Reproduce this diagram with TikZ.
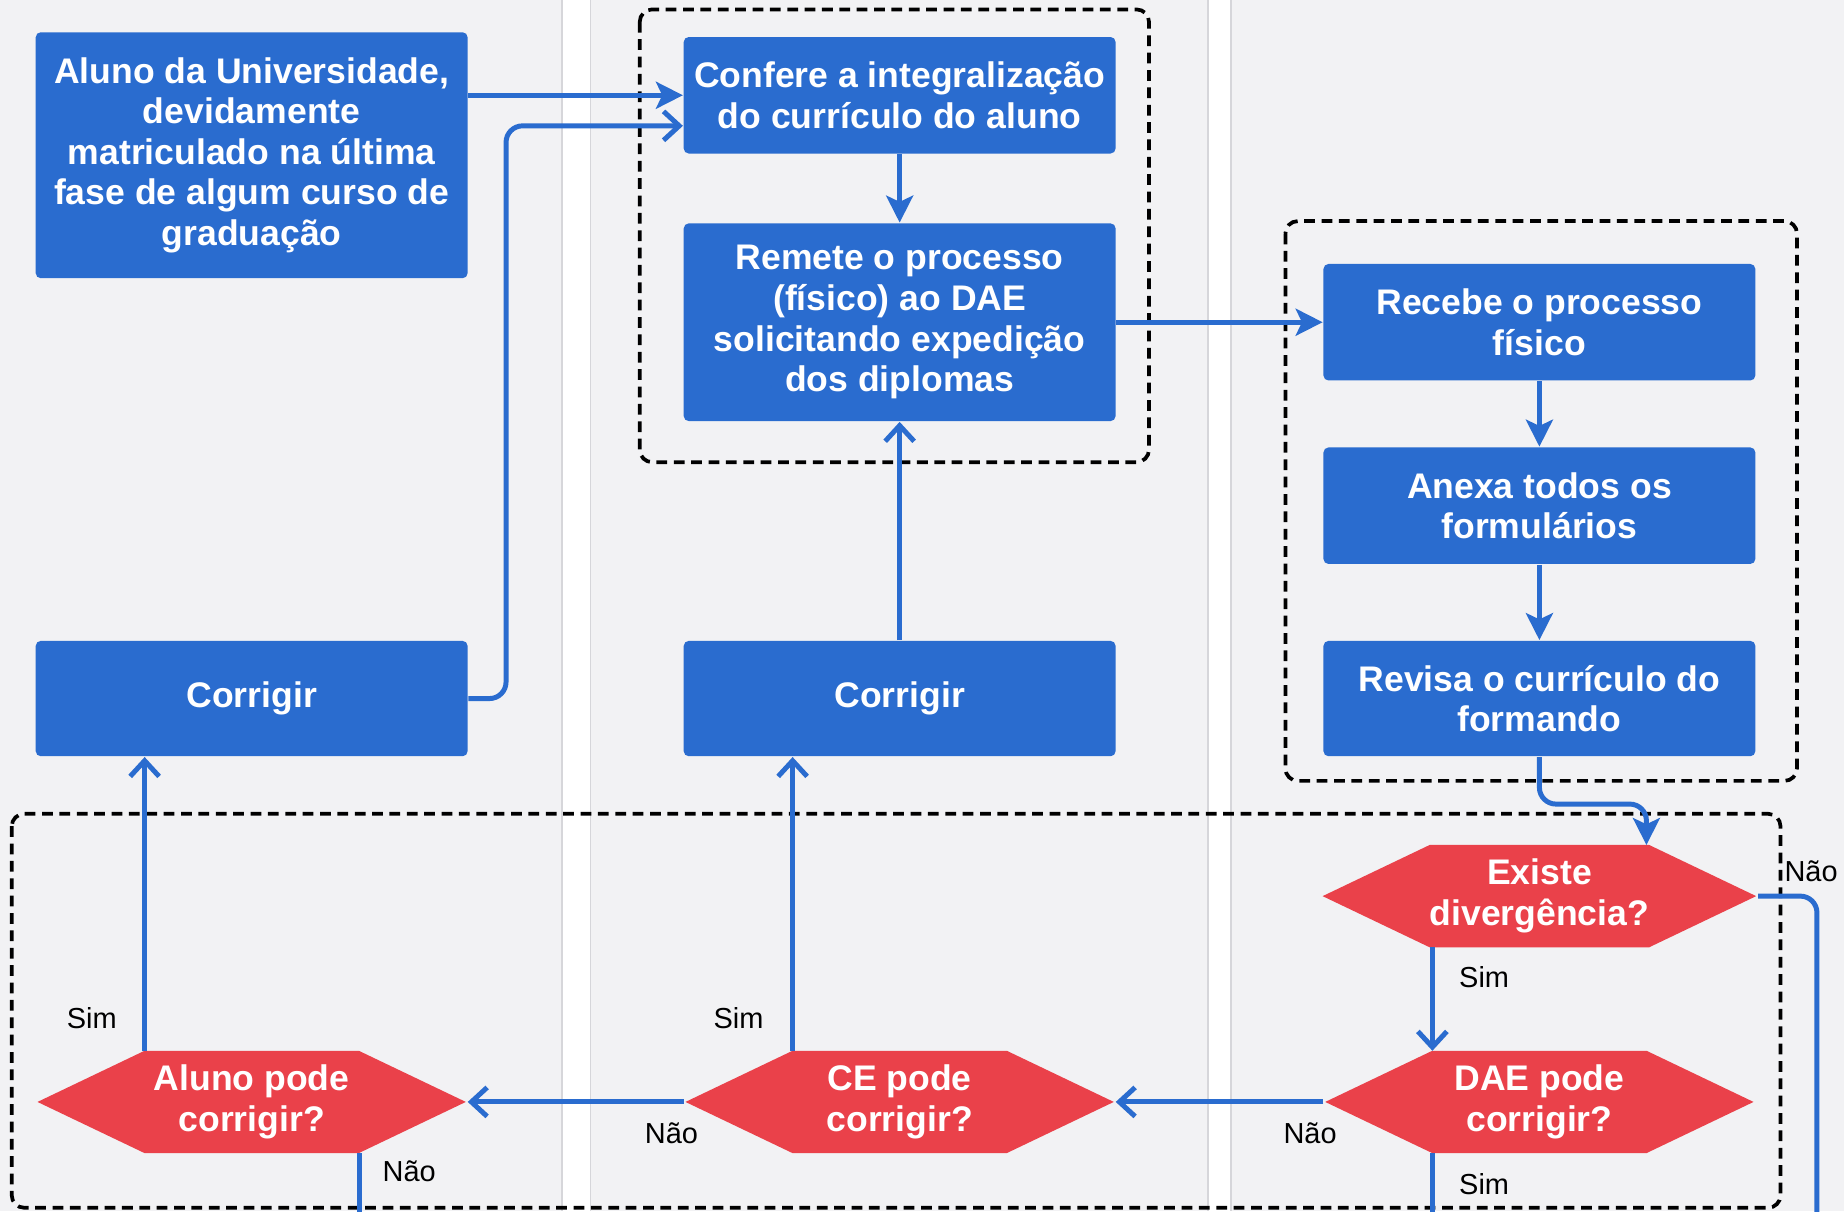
\documentclass[tikz,border=0pt]{standalone}
\usepackage{fontspec}
\setmainfont{Liberation Sans}
\usetikzlibrary{shapes.symbols,arrows.meta,positioning,calc}

\definecolor{boxblue}{RGB}{42,108,207}
\definecolor{decred}{RGB}{234,65,74}
\definecolor{lanebg}{RGB}{242,242,244}
\definecolor{laneline}{RGB}{214,214,218}

\begin{document}
\begin{tikzpicture}[x=0.01cm,y=0.01cm,
  proc/.style={fill=boxblue,rounded corners=1.2pt,text=white,align=center,
    font=\bfseries\fontsize{8.6}{9.8}\selectfont,minimum width=3.67cm,inner sep=0pt},
  dec/.style={shape=signal,signal to=west and east,signal pointer angle=51.1,
    fill=decred,text=white,align=center,font=\bfseries\fontsize{8.6}{9.8}\selectfont,
    minimum width=3.64cm,minimum height=0.87cm,inner sep=0pt},
  flow/.style={draw=boxblue,line width=1.2pt,rounded corners=4pt},
  tofull/.style={-{Stealth[length=6.5pt,width=6.5pt,inset=1.5pt]}},
  toopen/.style={-{Straight Barb[length=3.8pt,width=7pt]}},
  grp/.style={draw=black,line width=0.9pt,dash pattern=on 2.6pt off 1.6pt,rounded corners=3pt},
  lbl/.style={font=\fontsize{7}{8}\selectfont,text=black,inner sep=0pt}]

% lanes
\fill[lanebg] (0,0) rectangle (1568,-1030);
\useasboundingbox (0,0) rectangle (1568,-1030);
\foreach \xa/\xb in {478/502,1027/1047}{
\fill[white] (\xa,0) rectangle (\xb,-1030);
\draw[laneline,line width=0.4pt] (\xa,0) -- (\xa,-1030) (\xb,0) -- (\xb,-1030);
}

% groups
\draw[grp] (544,-8) rectangle (977,-393);
\draw[grp] (1093,-188) rectangle (1528,-664);
\draw[grp] (10,-692) rectangle (1514,-1027);

% boxes
\node[proc,minimum height=2.09cm] (aluno) at (214,-132) {Aluno da Universidade,\\devidamente\\matriculado na última\\fase de algum curso de\\graduação};
\node[proc,minimum height=0.99cm] (confere) at (765,-81) {Confere a integralização\\do currículo do aluno};
\node[proc,minimum height=1.68cm] (remete) at (765,-274) {Remete o processo\\(físico) ao DAE\\solicitando expedição\\dos diplomas};
\node[proc,minimum height=0.98cm] (corrA) at (214,-594) {Corrigir};
\node[proc,minimum height=0.98cm] (corrB) at (765,-594) {Corrigir};
\node[proc,minimum height=0.99cm] (recebe) at (1309,-274) {Recebe o processo\\físico};
\node[proc,minimum height=0.99cm] (anexa) at (1309,-430) {Anexa todos os\\formulários};
\node[proc,minimum height=0.98cm] (revisa) at (1309,-594) {Revisa o currículo do\\formando};

% decisions
\node[dec] (existe) at (1309,-762) {Existe\\divergência?};
\node[dec] (daepode) at (1309,-937) {DAE pode\\corrigir?};
\node[dec] (cepode) at (765,-937) {CE pode\\corrigir?};
\node[dec] (alunopode) at (214,-937) {Aluno pode\\corrigir?};

\coordinate (cin) at ($(confere.west)+(0,-26)$);
\coordinate (existe-ne) at ($(existe.center)+(91,43.5)$);
\coordinate (existe-sw) at ($(existe.center)+(-91,-43.5)$);
\coordinate (daepode-nw) at ($(daepode.center)+(-91,43.5)$);
\coordinate (daepode-sw) at ($(daepode.center)+(-91,-43.5)$);
\coordinate (cepode-nw) at ($(cepode.center)+(-91,43.5)$);
\coordinate (alunopode-nw) at ($(alunopode.center)+(-91,43.5)$);
\coordinate (alunopode-se) at ($(alunopode.center)+(92,-43.5)$);

% connectors
\draw[flow,tofull] (confere.west -| aluno.east) -- (confere.west);
\draw[flow,toopen] (corrA.east) -- ++(32,0) |- (cin);
\draw[flow,tofull] (confere.south) -- (remete.north);
\draw[flow,tofull] (remete.east) -- (recebe.west);
\draw[flow,tofull] (recebe.south) -- (anexa.north);
\draw[flow,tofull] (anexa.south) -- (revisa.north);
\draw[flow,tofull] (revisa.south) -- ++(0,-40) -| (existe-ne);
\draw[flow] (existe.east) -| (1545,-1040);
\draw[flow,toopen] (existe-sw) -- (daepode-nw);
\draw[flow] (daepode-sw) -- (1218,-1040);
\draw[flow,toopen] (daepode.west) -- (cepode.east);
\draw[flow,toopen] (cepode.west) -- (alunopode.east);
\draw[flow,toopen] (cepode-nw) -- (cepode-nw |- corrB.south);
\draw[flow,toopen] (corrB.north) -- (remete.south);
\draw[flow,toopen] (alunopode-nw) -- (alunopode-nw |- corrA.south);
\draw[flow] (alunopode-se) -- (306,-1040);

% labels
\node[lbl] (naoA) at (1540,-741) {Não};
\node[lbl] (simA) at (1262,-831) {Sim};
\node[lbl] (simB) at (1262,-1007) {Sim};
\node[lbl] (naoB) at (1114,-964) {Não};
\node[lbl] (naoC) at (571,-964) {Não};
\node[lbl] (simC) at (628,-866) {Sim};
\node[lbl] (simD) at (78,-866) {Sim};
\node[lbl] (naoD) at (348,-996) {Não};

\end{tikzpicture}
\end{document}
